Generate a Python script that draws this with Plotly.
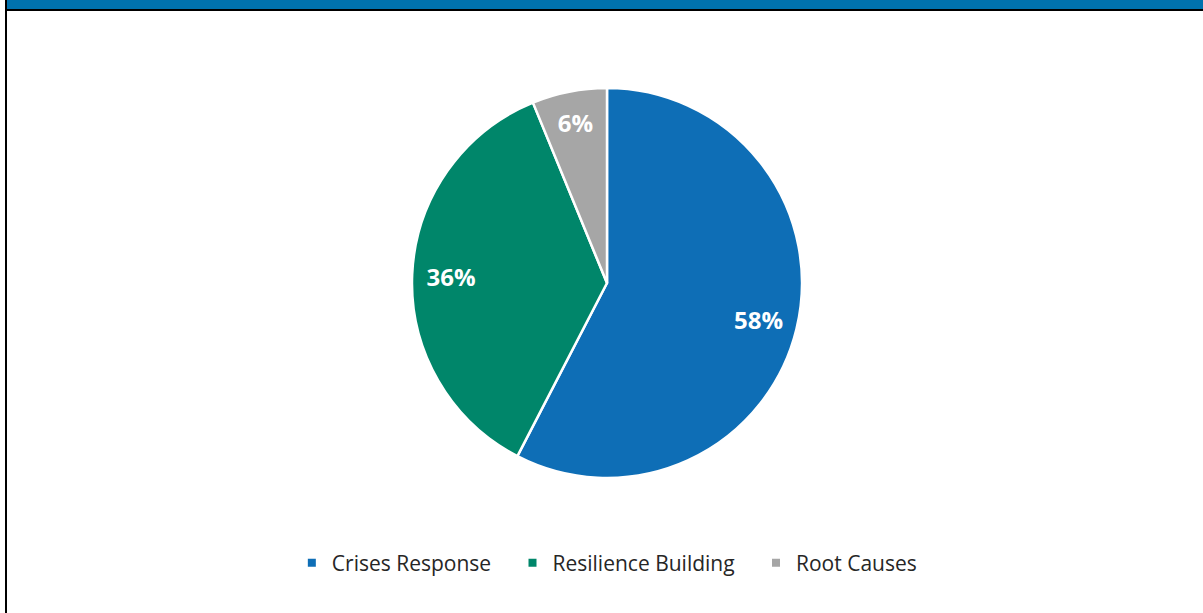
import plotly.graph_objects as go

categories = ["Crises Response", "Resilience Building", "Root Causes"]
values = [57.6, 36.2, 6.2]
colors = ["#0e6eb6", "#00866a", "#a6a6a6"]

W, H = 1203, 613
dom = dict(x=[412 / W, 802 / W], y=[1 - 478 / H, 1 - 88 / H])

fig = go.Figure()
# slices
fig.add_trace(go.Pie(
    labels=categories, values=values, sort=False, direction="clockwise", rotation=0,
    marker=dict(colors=colors, line=dict(color="white", width=2.5)),
    textinfo="none", domain=dom, showlegend=False, hoverinfo="label+percent",
))
# labels placed further out, via a transparent ring overlay
fig.add_trace(go.Pie(
    labels=categories, values=values, sort=False, direction="clockwise", rotation=0, hole=0.6,
    marker=dict(colors=["rgba(0,0,0,0)"] * 3, line=dict(width=0)),
    texttemplate="%{percent:.0%}", textposition="inside", insidetextorientation="horizontal",
    textfont=dict(family="Open Sans", size=24, color="white", weight="bold"),
    domain=dom, showlegend=False, hoverinfo="skip",
))
pad = "\u00a0" * 3
for c, col in zip(categories, colors):
    fig.add_trace(go.Scatter(x=[None], y=[None], mode="markers", name=c + pad,
                             marker=dict(symbol="square", size=8, color=col)))

fig.update_layout(
    width=W, height=H, margin=dict(l=0, r=0, t=0, b=0),
    paper_bgcolor="white", plot_bgcolor="white",
    xaxis=dict(visible=False), yaxis=dict(visible=False),
    legend=dict(orientation="h", x=0.5115, xanchor="center", y=1 - 563 / H, yanchor="middle",
                font=dict(family="Open Sans", size=21, color="#262626"),
                itemwidth=30, bgcolor="rgba(0,0,0,0)"),
    shapes=[
        dict(type="rect", xref="paper", yref="paper", x0=7 / W, x1=1, y0=1 - 9 / H, y1=1,
             fillcolor="#0072ae", line=dict(width=0)),
        dict(type="rect", xref="paper", yref="paper", x0=7 / W, x1=1, y0=1 - 11 / H, y1=1 - 9 / H,
             fillcolor="black", line=dict(width=0)),
        dict(type="rect", xref="paper", yref="paper", x0=5 / W, x1=7 / W, y0=0, y1=1,
             fillcolor="black", line=dict(width=0)),
    ],
)
fig.write_html("out.html", config={"displayModeBar": False},
               post_script="document.body.style.margin='0';")
